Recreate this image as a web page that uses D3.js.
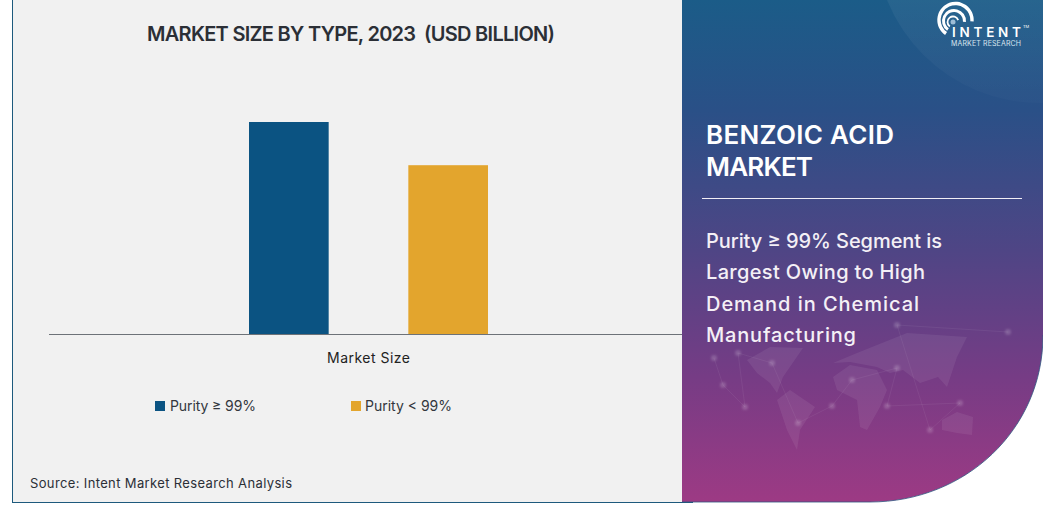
<!DOCTYPE html>
<html>
<head>
<meta charset="utf-8">
<script src="https://cdn.jsdelivr.net/npm/d3@7"></script>
<style>
  html, body { margin: 0; padding: 0; background: #fff; }
  svg { display: block; font-family: Inter, "Noto Sans", sans-serif; }
</style>
</head>
<body>
<div id="chart"></div>
<script>
const categories = ['Market Size'];
const seriesNames = ['Purity ≥ 99%', 'Purity < 99%'];
const seriesValues = [5.3, 4.22];
const seriesColors = ['#0b5382', '#e3a52d'];

const titleText = 'MARKET SIZE BY TYPE, 2023  (USD BILLION)';
const sourceText = 'Source: Intent Market Research Analysis';
const headingLines = ['BENZOIC ACID', 'MARKET'];
const bodyLines = ['Purity ≥ 99% Segment is', 'Largest Owing to High', 'Demand in Chemical', 'Manufacturing'];

const width = 1043;
const height = 513;

const svg = d3
  .select('#chart')
  .append('svg')
  .attr('width', width)
  .attr('height', height)
  .attr('viewBox', `0 0 ${width} ${height}`);

const defs = svg.append('defs');

const gradient = defs
  .append('linearGradient')
  .attr('id', 'panel-fill')
  .attr('x1', 0)
  .attr('y1', 0)
  .attr('x2', 0)
  .attr('y2', 1);
gradient.append('stop').attr('offset', '0%').attr('stop-color', '#1b5c88');
gradient.append('stop').attr('offset', '22%').attr('stop-color', '#2a5087');
gradient.append('stop').attr('offset', '50%').attr('stop-color', '#4f4585');
gradient.append('stop').attr('offset', '75%').attr('stop-color', '#763c85');
gradient.append('stop').attr('offset', '100%').attr('stop-color', '#9d3a84');

const cornerFade = defs
  .append('linearGradient')
  .attr('id', 'corner-fade')
  .attr('x1', 0)
  .attr('y1', 0)
  .attr('x2', 0)
  .attr('y2', 1);
cornerFade.append('stop').attr('offset', '55%').attr('stop-color', '#fff').attr('stop-opacity', 0.07);
cornerFade.append('stop').attr('offset', '100%').attr('stop-color', '#fff').attr('stop-opacity', 0.015);

defs
  .append('filter')
  .attr('id', 'soft')
  .append('feGaussianBlur')
  .attr('stdDeviation', 1);

const panelPath = 'M682,0H1043V335C1043,430 965,502 870,502H682Z';
defs.append('clipPath').attr('id', 'panel-clip').append('path').attr('d', panelPath);

// left panel
svg
  .append('rect')
  .attr('x', 12.5)
  .attr('y', -2)
  .attr('width', 680)
  .attr('height', 504.5)
  .attr('fill', '#f1f1f1')
  .attr('stroke', '#1d5a7d')
  .attr('stroke-width', 1);

// right panel
svg.append('path').attr('d', panelPath).attr('fill', 'url(#panel-fill)');
svg
  .append('path')
  .attr('d', 'M1043,335C1043,430 965,502 870,502H682')
  .attr('fill', 'none')
  .attr('stroke', '#2f5580')
  .attr('stroke-width', 0.8);

const deco = svg.append('g').attr('clip-path', 'url(#panel-clip)');

deco
  .append('circle')
  .attr('cx', 1040)
  .attr('cy', -62)
  .attr('r', 165)
  .attr('fill', 'url(#corner-fade)');

// faint world map behind the text
const continents = [
  'M747,360L770,347L803,348L783,377L777,393L770,383L757,373Z',
  'M777,400L790,390L815,407L800,430L797,450L787,430Z',
  'M833,377L850,365L877,370L887,390L880,407L867,430L860,427L857,400L837,390Z',
  'M833,363L857,353L907,333L967,337L957,357L947,387L938,377L920,383L903,370L890,373L877,367L850,362Z',
  'M942,420L957,412L973,417L972,435L957,433L942,430Z'
];
deco
  .append('g')
  .selectAll('path')
  .data(continents)
  .join('path')
  .attr('d', d => d)
  .attr('fill', '#fff')
  .attr('fill-opacity', 0.07);

const hubs = [
  [714, 358], [723, 385], [745, 407], [738, 353], [772, 363], [798, 423], [832, 406], [852, 380], [897, 368], [887, 406], [960, 403], [930, 430], [897, 325], [1008, 332]
];
deco
  .append('g')
  .selectAll('line')
  .data(d3.pairs(hubs))
  .join('line')
  .attr('x1', d => d[0][0])
  .attr('y1', d => d[0][1])
  .attr('x2', d => d[1][0])
  .attr('y2', d => d[1][1])
  .attr('stroke', '#fff')
  .attr('stroke-opacity', 0.06);
deco
  .append('g')
  .attr('filter', 'url(#soft)')
  .selectAll('circle')
  .data(hubs)
  .join('circle')
  .attr('cx', d => d[0])
  .attr('cy', d => d[1])
  .attr('r', 3)
  .attr('fill', '#fff')
  .attr('fill-opacity', 0.17);

// chart
const baseline = 334;
const yPos = d3.scaleLinear().domain([0, 5.3]).range([baseline, 122]);

const xOuter = d3.scaleBand().domain(categories).range([49.5, 687.5]).padding(0.455);
const xInner = d3
  .scaleBand()
  .domain(seriesNames)
  .range([0, xOuter.bandwidth()])
  .paddingInner(0.5);

svg
  .append('g')
  .selectAll('rect')
  .data(seriesNames.map((name, i) => ({ name, value: seriesValues[i], color: seriesColors[i] })))
  .join('rect')
  .attr('x', d => xOuter(categories[0]) + xInner(d.name))
  .attr('y', d => yPos(d.value))
  .attr('width', xInner.bandwidth())
  .attr('height', d => baseline - yPos(d.value))
  .attr('fill', d => d.color);

const xAxis = svg
  .append('g')
  .attr('transform', `translate(0, ${baseline})`)
  .call(d3.axisBottom(xOuter).tickSize(0).tickPadding(19));
xAxis.select('.domain').attr('d', 'M49,0.5H682').attr('stroke', '#6d7278').attr('stroke-width', 1);
xAxis
  .selectAll('.tick text')
  .attr('fill', '#222')
  .style('font', '400 14px Inter, sans-serif')
  .attr('textLength', 83);

// title
svg
  .append('text')
  .attr('x', 147)
  .attr('y', 41)
  .attr('fill', '#2b2f36')
  .attr('textLength', 408)
  .style('font', '600 20px Inter, sans-serif')
  .style('white-space', 'pre')
  .text(titleText);

// legend
const legendX = [155, 351];
const legend = svg
  .append('g')
  .selectAll('g')
  .data(seriesNames)
  .join('g')
  .attr('transform', (d, i) => `translate(${legendX[i]}, 401)`);
legend
  .append('rect')
  .attr('width', 10)
  .attr('height', 10)
  .attr('fill', (d, i) => seriesColors[i]);
legend
  .append('text')
  .attr('x', (d, i) => (i ? 14 : 15))
  .attr('y', 10)
  .attr('fill', '#33373d')
  .attr('textLength', (d, i) => (i ? 87 : 86))
  .style('font', '400 14px Inter, sans-serif')
  .text(d => d);

// source
svg
  .append('text')
  .attr('x', 30)
  .attr('y', 488)
  .attr('fill', '#2b2f36')
  .attr('textLength', 262)
  .style('font', '400 13px Inter, sans-serif')
  .text(sourceText);

// right panel text
const headingWidths = [188, 107];
svg
  .append('g')
  .selectAll('text')
  .data(headingLines)
  .join('text')
  .attr('x', 706)
  .attr('y', (d, i) => 144 + i * 32)
  .attr('fill', '#fff')
  .attr('textLength', (d, i) => headingWidths[i])
  .style('font', '600 26px Inter, sans-serif')
  .text(d => d);

svg
  .append('line')
  .attr('x1', 702)
  .attr('x2', 1022)
  .attr('y1', 198.5)
  .attr('y2', 198.5)
  .attr('stroke', '#f2eef5')
  .attr('stroke-width', 1);

const bodyWidths = [236, 219, 213, 150];
svg
  .append('g')
  .selectAll('text')
  .data(bodyLines)
  .join('text')
  .attr('x', 706)
  .attr('y', (d, i) => 248 + i * 31.3)
  .attr('fill', '#f4f0f6')
  .attr('textLength', (d, i) => bodyWidths[i])
  .style('font', '500 20px Inter, sans-serif')
  .text(d => d);

// logo, the three rings are not quite concentric
const logo = svg.append('g');
const logoArc = d3.arc();
const rad = deg => (deg * Math.PI) / 180;
[
  [955.5, 20, 16.5, 3.4, 95],
  [954, 21, 10.5, 3, 95],
  [953, 22, 5.5, 1.8, 70]
].forEach(([cx, cy, r, w, end]) => {
  logo
    .append('path')
    .attr('transform', `translate(${cx}, ${cy})`)
    .attr('d', logoArc({ innerRadius: r - w / 2, outerRadius: r + w / 2, startAngle: rad(-145), endAngle: rad(end) }))
    .attr('fill', '#fff');
});
logo.append('circle').attr('cx', 953).attr('cy', 22).attr('r', 2.5).attr('fill', '#9dbdd6');

svg
  .append('text')
  .attr('x', 952)
  .attr('y', 37)
  .attr('fill', '#fff')
  .attr('textLength', 69)
  .style('font', '600 13.5px Inter, sans-serif')
  .text('INTENT');
svg
  .append('text')
  .attr('x', 1023)
  .attr('y', 28)
  .attr('fill', '#fff')
  .style('font', '400 4px Inter, sans-serif')
  .text('TM');
svg
  .append('text')
  .attr('x', 951)
  .attr('y', 45.5)
  .attr('fill', '#d9e6f0')
  .attr('textLength', 70)
  .style('font', '400 7px Inter, sans-serif')
  .text('MARKET RESEARCH');
</script>
</body>
</html>
